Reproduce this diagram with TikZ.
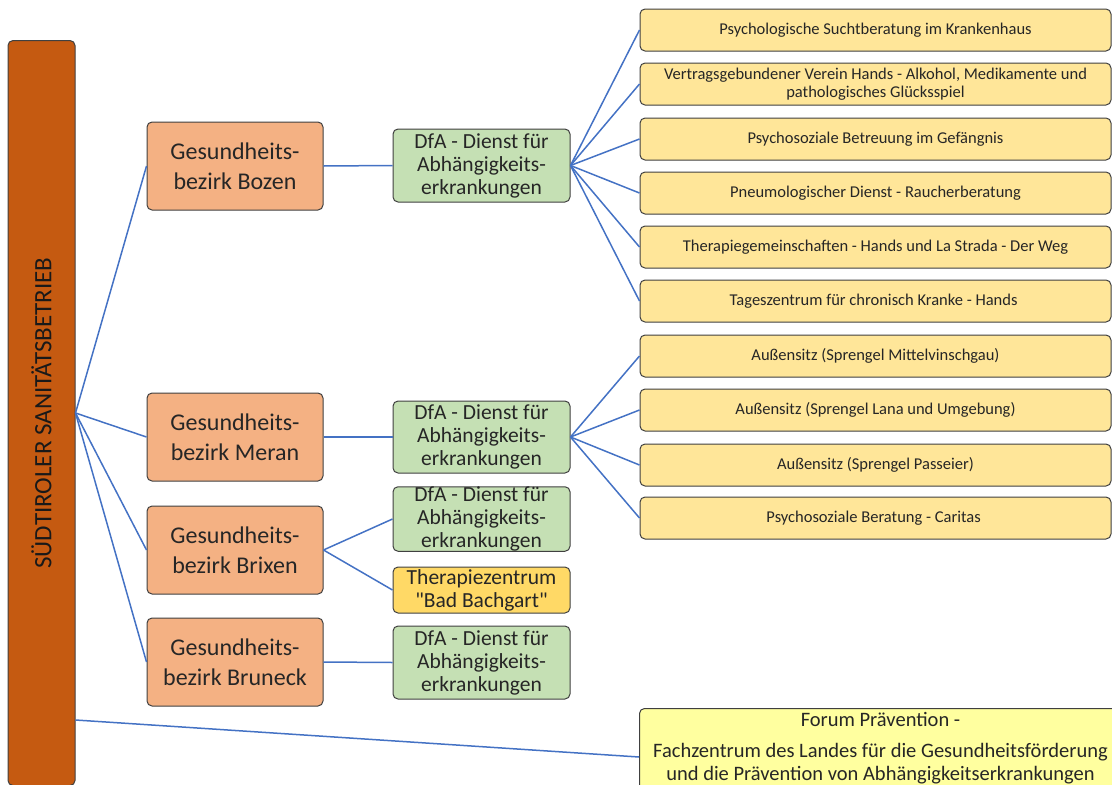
\documentclass[tikz,border=0pt]{standalone}
\usepackage{fontspec}
\setmainfont{Carlito}[Ligatures=TeXOff]
\usepackage{xcolor}
\usepackage{tikz}
\usetikzlibrary{positioning}

\definecolor{traeger}{HTML}{C55A11}
\definecolor{bezirk}{HTML}{F4B183}
\definecolor{dienst}{HTML}{C5E0B4}
\definecolor{zentrum}{HTML}{FFD966}
\definecolor{stelle}{HTML}{FFE699}
\definecolor{forum}{HTML}{FFFF9F}
\definecolor{linie}{HTML}{4472C4}

\begin{document}
\begin{tikzpicture}[x=1pt,y=-1pt,
    box/.style={draw=black!75,line width=1pt,rounded corners=5pt,inner sep=0pt,
      align=center,text=black!85},
    bezirkbox/.style={box,fill=bezirk,minimum width=176pt,minimum height=88pt,
      font=\fontsize{24}{30}\selectfont},
    dienstbox/.style={box,fill=dienst,minimum width=177pt,minimum height=73pt,
      font=\fontsize{21.5}{23}\selectfont},
    stellebox/.style={box,fill=stelle,minimum width=471pt,minimum height=42pt,
      font=\fontsize{16.5}{18}\selectfont},
    verbindung/.style={draw=linie,line width=1.5pt}]
  \useasboundingbox (0,0) rectangle (1112,785);
  \clip (0,0) rectangle (1112,785);

  % Traeger
  \node[box,fill=traeger,minimum width=67pt,minimum height=745pt,text=black!90,
    font=\fontsize{25}{30}\selectfont] (sabes) at (41.5,413)
    {\rotatebox{90}{SÜDTIROLER SANITÄTSBETRIEB}};
  \coordinate (sabesfuss) at (sabes.east |- 0,720);

  % Gesundheitsbezirke
  \foreach \n/\y in {Bozen/166, Meran/437, Brixen/550, Bruneck/662} {
    \node[bezirkbox] (bz\n) at (235,\y) {Gesundheits-\\bezirk \n};
    \draw[verbindung] (sabes.east) -- (bz\n.west);
  }

  % Dienste
  \node[dienstbox] (dfaBozen) at (481.5,165.5) {DfA - Dienst für\\Abhängigkeits-\\erkrankungen};
  \node[dienstbox,minimum height=72pt] (dfaMeran) at (481.5,437) {DfA - Dienst für\\Abhängigkeits-\\erkrankungen};
  \node[dienstbox,minimum height=64pt] (dfaBrixen) at (481.5,519) {DfA - Dienst für\\Abhängigkeits-\\erkrankungen};
  \node[dienstbox] (dfaBruneck) at (481.5,662.5) {DfA - Dienst für\\Abhängigkeits-\\erkrankungen};
  \node[box,fill=zentrum,minimum width=177pt,minimum height=46pt,
    font=\fontsize{21.5}{23}\selectfont] (bachgart) at (481.5,590)
    {Therapiezentrum\\"Bad Bachgart"};

  \draw[verbindung] (bzBozen.east) -- (dfaBozen.west);
  \draw[verbindung] (bzMeran.east) -- (dfaMeran.west);
  \draw[verbindung] (bzBrixen.east) -- (dfaBrixen.west);
  \draw[verbindung] (bzBrixen.east) -- (bachgart.west);
  \draw[verbindung] (bzBruneck.east) -- (dfaBruneck.west);

  % Einrichtungen Bozen
  \foreach \n/\y/\t in {
    1/30/Psychologische Suchtberatung im Krankenhaus,
    2/84/{Vertragsgebundener Verein Hands - Alkohol, Medikamente und\\pathologisches Glücksspiel},
    3/139/Psychosoziale Betreuung im Gefängnis,
    4/193/Pneumologischer Dienst - Raucherberatung,
    5/247/Therapiegemeinschaften - Hands und La Strada - Der Weg,
    6/301/Tageszentrum für chronisch Kranke - Hands
    } {
    \node[stellebox] (bo\n) at (875.5,\y) {\t};
    \draw[verbindung] (dfaBozen.east) -- (bo\n.west);
  }

  % Einrichtungen Meran
  \foreach \n/\y/\t in {
    1/356/Außensitz (Sprengel Mittelvinschgau),
    2/410/Außensitz (Sprengel Lana und Umgebung),
    3/465/Außensitz (Sprengel Passeier),
    4/518/Psychosoziale Beratung - Caritas
    } {
    \node[stellebox] (me\n) at (875.5,\y) {\t};
    \draw[verbindung] (dfaMeran.east) -- (me\n.west);
  }

  % Forum
  \node[box,fill=forum,minimum width=482pt,minimum height=90pt,anchor=north west,
    font=\fontsize{20.5}{23}\selectfont,inner ysep=4pt] (forum) at (639,708)
    {Forum Prävention -\\[8pt]Fachzentrum des Landes für die Gesundheitsförderung\\
     und die Prävention von Abhängigkeitserkrankungen\\[18pt]};
  \draw[verbindung] (sabesfuss) -- (forum.west |- 0,757);
\end{tikzpicture}
\end{document}
